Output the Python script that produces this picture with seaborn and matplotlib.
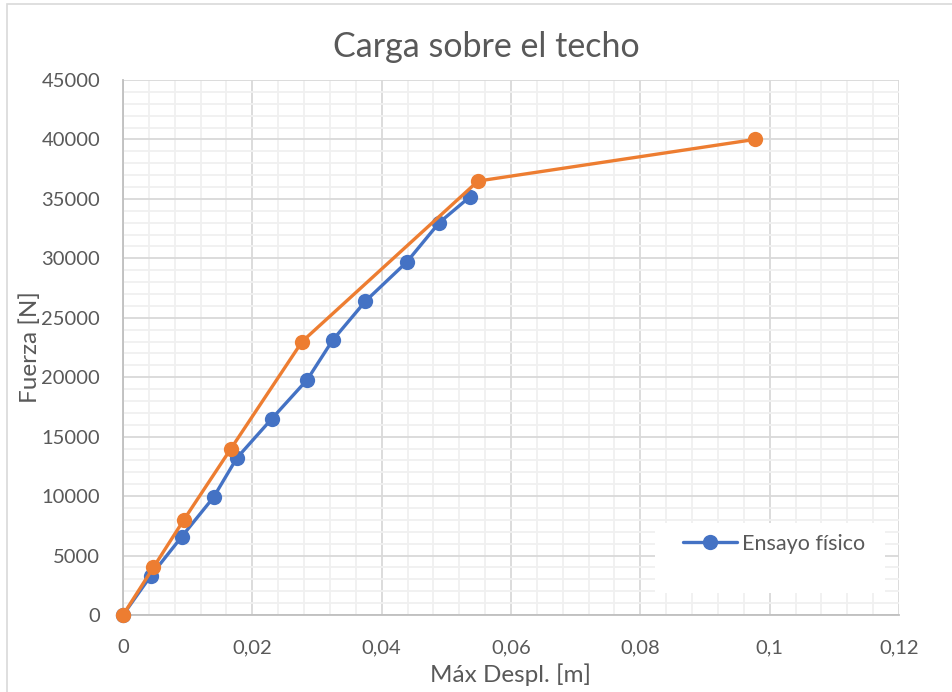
import matplotlib
matplotlib.use("Agg")
import matplotlib.pyplot as plt
from matplotlib.patches import Rectangle
from matplotlib.ticker import MultipleLocator, FuncFormatter
import seaborn as sns
import pandas as pd

# Ensayo físico (measured)
desp_ensayo = [0, 0.0043, 0.0091, 0.0140, 0.0176, 0.0230, 0.0285, 0.0324, 0.0375, 0.0439, 0.0489, 0.0537]
fuerza_ensayo = [0, 3300, 6600, 9900, 13200, 16500, 19800, 23100, 26400, 29700, 33000, 35200]

# Second curve (no legend entry)
desp_modelo = [0, 0.0047, 0.0094, 0.0167, 0.0277, 0.0549, 0.0977]
fuerza_modelo = [0, 4000, 8000, 14000, 23000, 36500, 40000]

titulo = "Carga sobre el techo"
etiqueta_x = "Máx Despl. [m]"
etiqueta_y = "Fuerza [N]"
nombre_ensayo = "Ensayo físico"

BLUE = "#4472C4"
ORANGE = "#ED7D31"
TEXT = "#595959"

sns.set_theme(style="white")
plt.rcParams["font.family"] = ["Lato", "DejaVu Sans"]

fig = plt.figure(figsize=(9.53, 6.92), dpi=100)
ax = fig.add_axes([123 / 953, 1 - 615 / 692, 776 / 953, 535 / 692])

df_ensayo = pd.DataFrame({"x": desp_ensayo, "y": fuerza_ensayo})
df_modelo = pd.DataFrame({"x": desp_modelo, "y": fuerza_modelo})

sns.lineplot(data=df_ensayo, x="x", y="y", ax=ax, color=BLUE, lw=2.4,
             marker="o", markersize=11, markeredgewidth=0, label=nombre_ensayo,
             sort=False, clip_on=False, zorder=4)
sns.lineplot(data=df_modelo, x="x", y="y", ax=ax, color=ORANGE, lw=2.4,
             marker="o", markersize=11, markeredgewidth=0, legend=False,
             sort=False, clip_on=False, zorder=5)

ax.set_xlim(0, 0.12)
ax.set_ylim(0, 45000)
ax.xaxis.set_major_locator(MultipleLocator(0.02))
ax.xaxis.set_minor_locator(MultipleLocator(0.004))
ax.yaxis.set_major_locator(MultipleLocator(5000))
ax.yaxis.set_minor_locator(MultipleLocator(1000))
ax.xaxis.set_major_formatter(FuncFormatter(lambda v, p: f"{round(v, 4):g}".replace(".", ",")))
ax.yaxis.set_major_formatter(FuncFormatter(lambda v, p: f"{int(round(v))}"))

ax.grid(which="minor", color="#F0F0F0", lw=1.3, zorder=0)
ax.grid(which="major", color="#D9D9D9", lw=1.3, zorder=1)
ax.set_axisbelow(True)

for side in ["top", "right"]:
    ax.spines[side].set_visible(False)
for side in ["left", "bottom"]:
    ax.spines[side].set_color("#BFBFBF")
    ax.spines[side].set_linewidth(1.3)

ax.tick_params(which="major", direction="out", length=5.5, width=1, color="#BFBFBF",
               labelsize=14.5, labelcolor=TEXT)
ax.tick_params(axis="y", pad=11)
ax.tick_params(axis="x", pad=12)
ax.tick_params(which="minor", length=0)

ax.set_xlabel(etiqueta_x, fontsize=17.5, color=TEXT, va="center")
ax.set_ylabel(etiqueta_y, fontsize=17.5, color=TEXT, va="center")
ax.xaxis.set_label_coords(0.5, (615 - 675) / 535)
ax.yaxis.set_label_coords((30 - 123) / 776, 0.5)

fig.text(486 / 953, 1 - 47 / 692, titulo, ha="center", va="center",
         fontsize=24.5, color=TEXT)

# legend backdrop
ax.add_patch(Rectangle((0.6856, 0.0411), 0.2964, 0.1308, transform=ax.transAxes,
                       facecolor="white", edgecolor="none", zorder=2))
leg = ax.legend(loc="center left", bbox_to_anchor=((683 - 123) / 776, (615 - 544) / 535),
                frameon=False, fontsize=15.5, handlelength=2.5, handletextpad=0.25,
                borderpad=0, borderaxespad=0)
for t in leg.get_texts():
    t.set_color(TEXT)

# chart-area border
fig.patches.append(Rectangle((7 / 953, -0.05), 1.2, 1.05 - 4.5 / 692, transform=fig.transFigure,
                             facecolor="none", edgecolor="#D9D9D9", lw=1.2))

fig.savefig("out.png", dpi=100)
